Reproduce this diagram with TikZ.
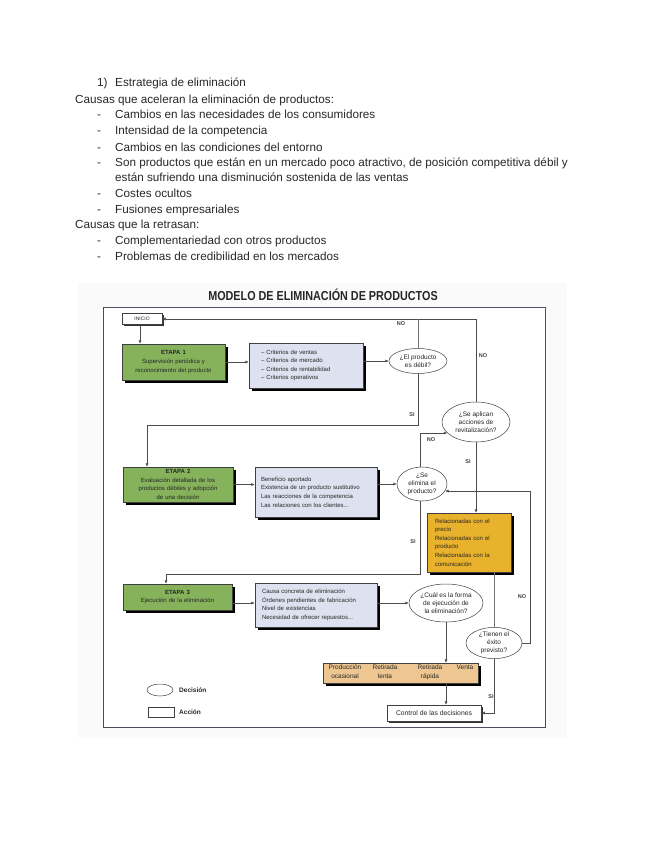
\documentclass[tikz,border=0pt]{standalone}
\usepackage{fontspec}
\setmainfont{Liberation Sans}
\usetikzlibrary{shapes.geometric,arrows.meta,shadows,calc}
\definecolor{grn}{RGB}{134,178,92}
\definecolor{lblue}{RGB}{222,226,240}
\definecolor{gold}{RGB}{233,178,44}
\definecolor{tan}{RGB}{238,198,145}
\definecolor{frm}{RGB}{70,78,96}
\definecolor{txt}{RGB}{40,40,40}
\begin{document}
\begin{tikzpicture}[x=1pt,y=-1pt,
  doc/.style={anchor=base west, font=\fontsize{11.7}{13}\selectfont, inner sep=0pt, text=txt},
  small/.style={font=\fontsize{6}{8.6}\selectfont, text=black!85},
  dtext/.style={font=\fontsize{6.5}{8}\selectfont, text=black!85},
  lbl/.style={font=\fontsize{5.5}{6}\selectfont\bfseries, text=black!75, inner sep=0pt},
  sh/.style={drop shadow={shadow xshift=2.5pt,shadow yshift=-2.5pt,fill=black,opacity=1}},
  shs/.style={drop shadow={shadow xshift=1.5pt,shadow yshift=-1.5pt,fill=black!80,opacity=1}},
  act/.style={draw=black!75, line width=0.5pt, small},
  stage/.style={act, sh, fill=grn, align=center, inner sep=1pt},
  info/.style={act, sh, fill=lblue, align=left, inner ysep=0pt},
  dec/.style={ellipse, draw=black!75, line width=0.5pt, fill=white, inner sep=0pt, align=center, dtext},
  ln/.style={line width=0.5pt, draw=black!55},
  arr/.style={ln, -{Latex[length=3.5pt,width=3pt]}, draw=black!70},
  otext/.style={small, font=\fontsize{6.5}{8.6}\selectfont, align=center, inner sep=0pt, anchor=base}
]
\useasboundingbox (0,0) rectangle (655,848);
\fill[white] (0,0) rectangle (655,848);

% ---- document text ----
\node[doc] (t0a) at (97,87) {1)};
\node[doc] (t0) at (115,87) {Estrategia de eliminación};
\node[doc] (t1) at (75,103) {Causas que aceleran la eliminación de productos:};
\foreach \y/\t in {119/Cambios en las necesidades de los consumidores,
                   135/Intensidad de la competencia,
                   151/Cambios en las condiciones del entorno,
                   166/{Son productos que están en un mercado poco atractivo, de posición competitiva débil y},
                   197/Costes ocultos,
                   213/Fusiones empresariales,
                   244/Complementariedad con otros productos,
                   260/Problemas de credibilidad en los mercados}{
  \node[doc] at (97,\y) {-};
  \node[doc] at (115,\y) {\t};
}
\node[doc] (t2) at (115,181) {están sufriendo una disminución sostenida de las ventas};
\node[doc] (t3) at (75,228) {Causas que la retrasan:};

% ---- diagram image ----
\fill[gray!4] (78,283) rectangle (567,738);
\node[font=\fontsize{13}{13}\selectfont\bfseries, text=black!85, inner sep=0pt] (title) at (323,295)
  {\scalebox{0.83}[1]{MODELO DE ELIMINACIÓN DE PRODUCTOS}};
\fill[white] (103,307) rectangle (545,727);
\draw[frm, line width=1pt] (103,307) rectangle (545,727);

\node[act, shs, fill=white, minimum width=40, minimum height=11, inner sep=0pt,
      font=\fontsize{5}{5}\selectfont] (inicio) at (142,319) {INICIO};

\node[stage, minimum width=103, minimum height=36, text width=100] (e1) at (173.5,362)
  {\textbf{ETAPA 1}\\Supervisión periódica y\\reconocimiento del producto};
\node[info, minimum width=114, minimum height=45, inner xsep=12pt, text width=90] (c1) at (306,365.5)
  {– Criterios de ventas\\– Criterios de mercado\\– Criterios de rentabilidad\\– Criterios operativos};
\node[dec, minimum width=58, minimum height=25] (d1) at (418,361) {¿El producto\\es débil?};
\node[dec, minimum width=68, minimum height=40] (d2) at (476,422) {¿Se aplican\\acciones de\\revitalización?};

\node[stage, minimum width=110, minimum height=35, text width=106] (e2) at (178,484.5)
  {\textbf{ETAPA 2}\\Evaluación detallada de los\\productos débiles y adopción\\de una decisión};
\node[info, minimum width=122, minimum height=50, inner xsep=6pt, text width=110] (c2) at (316,492)
  {Beneficio aportado\\Existencia de un producto sustitutivo\\Las reacciones de la competencia\\Las relaciones con los clientes...};
\node[dec, minimum width=50, minimum height=34] (d3) at (422,484) {¿Se\\elimina el\\producto?};
\node[act, sh, fill=gold, minimum width=84, minimum height=59, inner xsep=8pt, inner ysep=0pt,
      text width=68, align=left] (or) at (469,542.5)
  {Relacionadas con el\\precio\\Relacionadas con el\\producto\\Relacionadas con la\\comunicación};

\node[stage, minimum width=109, minimum height=26, text width=105] (e3) at (177.5,597)
  {\textbf{ETAPA 3}\\Ejecución de la eliminación};
\node[info, minimum width=122, minimum height=44, inner xsep=7pt, text width=108] (c3) at (316,605)
  {Causa concreta de eliminación\\Órdenes pendientes de fabricación\\Nivel de existencias\\Necesidad de ofrecer repuestos...};
\node[dec, minimum width=74, minimum height=38] (d4) at (446,603) {¿Cuál es la forma\\de ejecución de\\la eliminación?};
\node[dec, minimum width=56, minimum height=29] (d5) at (494,643) {¿Tienen el\\éxito\\previsto?};

\node[act, sh, fill=tan, minimum width=155, minimum height=20, inner sep=0pt] (o2) at (400.5,673) {};
\node[otext] (o2t1) at (345,678) {Producción\\ocasional};
\node[otext] (o2t2) at (385,678) {Retirada\\lenta};
\node[otext] (o2t3) at (430,678) {Retirada\\rápida};
\node[otext] (o2t4) at (465,669.4) {Venta};
\node[act, shs, fill=white, minimum width=94, minimum height=16, inner sep=0pt,
      font=\fontsize{6.8}{8}\selectfont] (ctrl) at (434,713)
  {Control de las decisiones};

% legend
\node[ellipse, draw=black!75, line width=0.5pt, minimum width=26, minimum height=12, inner sep=0pt] (legd) at (160,690) {};
\node[small, font=\fontsize{6.5}{8}\selectfont, anchor=west, inner sep=0pt] (legdt) at (179,690) {\textbf{Decisión}};
\node[draw=black!75, line width=0.5pt, minimum width=26, minimum height=10, inner sep=0pt] (lega) at (161,712) {};
\node[small, font=\fontsize{6.5}{8}\selectfont, anchor=west, inner sep=0pt] (legat) at (179,712) {\textbf{Acción}};

% ---- connectors ----
\draw[arr] (inicio.south -| 140,0) -- (e1.north -| 140,0);
\draw[arr] (e1.east) -- (e1.east -| c1.west);
\draw[arr] (c1.east |- d1) -- (d1.west);
\draw[arr] (d2.north) |- (inicio.east);
\draw[ln] (d1.north) -- (d1.north |- inicio.east);
\coordinate (k1) at (418,425);
\draw[arr] (d1.south) -- (k1) -| (e2.north -| 147,0);
\draw[arr] (d3.north -| 420,0) |- (d2.201);
\draw[arr] (d2.south) -- (d2.south |- or.north);

\draw[arr] (e2.east) -- (e2.east -| c2.west);
\draw[arr] (c2.east |- d3) -- (d3.west);
\coordinate (k2) at (420,574);
\draw[arr] (d3.south -| 420,0) -- (k2) -| (e3.north -| 166,0);

\draw[arr] (e3.east |- d4) -- (c3.west |- d4);
\draw[arr] (c3.east |- d4) -- (d4.west);
\draw[arr] (d4.south) -- (d4.south |- o2.north);
\draw[arr] (d4.south |- o2.south) -- (d4.south |- ctrl.north);
\draw[ln] (d5.north |- or.south) -- (d5.north);
\coordinate (k3) at (530,643);
\draw[arr] (d5.east) -- (k3) |- (d3.343);
\draw[arr] (d5.south) |- (ctrl.east);

% labels
\node[lbl] (n1) at (401,324) {NO};
\node[lbl] (n2) at (483,356) {NO};
\node[lbl] (s1) at (412,415) {SI};
\node[lbl] (n3) at (431,440) {NO};
\node[lbl] (s2) at (468,462) {SI};
\node[lbl] (s3) at (413,542) {SI};
\node[lbl] (n4) at (522,597) {NO};
\node[lbl] (s4) at (491,697) {SI};
\end{tikzpicture}
\end{document}
